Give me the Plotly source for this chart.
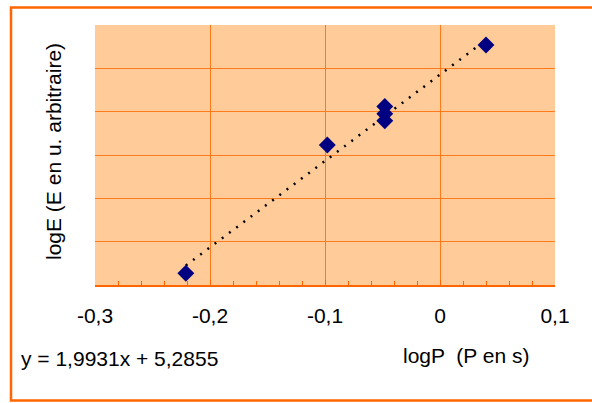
import plotly.graph_objects as go
import numpy as np

# Data
log_p = [-0.221, -0.098, -0.048, -0.048, -0.048, 0.040]
log_e = [4.827, 5.123, 5.212, 5.195, 5.179, 5.354]

# Trendline coefficients shown on the chart
slope = 1.9931
intercept = 5.2855
equation_text = "y = 1,9931x + 5,2855"

x_tick_vals = [-0.3, -0.2, -0.1, 0.0, 0.1]
x_tick_text = ["-0,3", "-0,2", "-0,1", "0", "0,1"]

x_title = "logP  (P en s)"
y_title = "logE (E en u. arbitraire)"

FONT = "Arial, Liberation Sans, sans-serif"
ORANGE = "#FF6600"
GRID = "#FF7A1A"
PEACH = "#FFCC99"

W, H = 592, 403
L, R, T, B = 95, 37, 25, 118
pw, ph = W - L - R, H - T - B

def px_x(x):
    return (x - L) / pw

def px_y(y):
    return (H - B - y) / ph

trend_x = np.array([min(log_p), max(log_p)])
trend_y = slope * trend_x + intercept

fig = go.Figure()
fig.add_trace(go.Scatter(
    x=trend_x, y=trend_y, mode="lines",
    line=dict(color="black", width=2.5, dash="2px,7px"),
    hoverinfo="skip", showlegend=False))
fig.add_trace(go.Scatter(
    x=log_p, y=log_e, mode="markers",
    marker=dict(symbol="diamond", size=13, color="#000080",
                line=dict(width=0)),
    showlegend=False))

fig.update_layout(
    width=W, height=H,
    margin=dict(l=L, r=R, t=T, b=B),
    paper_bgcolor="white",
    plot_bgcolor=PEACH,
    font=dict(family=FONT, size=21, color="black"),
    separators=", ",
    showlegend=False,
)
fig.update_xaxes(
    range=[-0.3, 0.1], tickvals=x_tick_vals, ticktext=x_tick_text,
    showgrid=True, gridcolor=GRID, gridwidth=1,
    zeroline=False, showline=True, linecolor=ORANGE, linewidth=2,
    ticks="inside", ticklen=5, tickcolor=ORANGE, tickwidth=1,
    minor=dict(dtick=0.02, ticks="inside", ticklen=4, tickcolor=ORANGE,
               showgrid=False, tick0=-0.3),
    ticklabelstandoff=11,
    tickfont=dict(family=FONT, size=21, color="black"),
    fixedrange=True,
)
fig.update_yaxes(
    range=[4.8, 5.4], dtick=0.1, tick0=4.8,
    showgrid=True, gridcolor=GRID, gridwidth=1,
    zeroline=False, showline=False, showticklabels=False, ticks="",
    fixedrange=True,
)

# outer chart border
fig.add_shape(type="rect", xref="paper", yref="paper",
              x0=px_x(11), x1=px_x(600), y0=px_y(400.5), y1=px_y(7.5),
              line=dict(color=ORANGE, width=2.5), fillcolor="rgba(0,0,0,0)",
              layer="below")

fig.add_annotation(text=x_title, xref="paper", yref="paper",
                   x=px_x(466), y=px_y(355), showarrow=False,
                   xanchor="center", yanchor="middle",
                   font=dict(family=FONT, size=21, color="black"))
fig.add_annotation(text=equation_text, xref="paper", yref="paper",
                   x=px_x(19), y=px_y(358), showarrow=False,
                   xanchor="left", yanchor="middle",
                   font=dict(family=FONT, size=21, color="black"))
fig.add_annotation(text=y_title, xref="paper", yref="paper",
                   x=px_x(53), y=px_y(152), showarrow=False, textangle=-90,
                   xanchor="center", yanchor="middle",
                   font=dict(family=FONT, size=21, color="black"))

fig.write_html("out.html",
               config={"displayModeBar": False, "staticPlot": True},
               post_script="document.body.style.margin='0';"
                           "document.body.style.overflow='hidden';")
